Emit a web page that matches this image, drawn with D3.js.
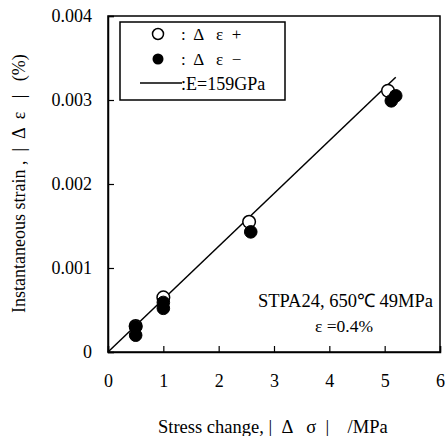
<!DOCTYPE html>
<html><head><meta charset="utf-8">
<script src="https://cdn.jsdelivr.net/npm/d3@7"></script>
<style>body{margin:0;background:#fff}svg text{font-family:"Liberation Serif","Times New Roman",serif;fill:#000;white-space:pre}</style>
</head><body><svg id="c" width="445" height="436"></svg>
<script>
const xTicks = [0,1,2,3,4,5,6];
const yTicks = [0,0.001,0.002,0.003,0.004];
const yTickLabels = ["0","0.001","0.002","0.003","0.004"];
const plusX = [0.5, 1.0, 2.55, 5.06];
const plusY = [0.00031, 0.00065, 0.00155, 0.00311];
const minusX = [0.5, 0.5, 1.0, 1.0, 2.58, 5.12, 5.2];
const minusY = [0.00030, 0.00020, 0.00059, 0.00052, 0.00143, 0.00299, 0.00305];
const lineX = [0, 5.2];
const E_GPa = 159;
const legendLabels = [":  Δ   ε  +", ":  Δ   ε  −", ":E=159GPa"];
const note1 = "STPA24, 650℃ 49MPa";
const note2 = "ε =0.4%";
const xTitle = "Stress change, |  Δ   σ  |    /MPa";
const yTitle = "Instantaneous strain ,  |  Δ  ε   |   (%)";

const svg = d3.select("#c");
const L=108, R=440, T=16, B=352;
const serif = '"Liberation Serif","Times New Roman",serif';
const x = d3.scaleLinear().domain([0,6]).range([L,R]);
const y = d3.scaleLinear().domain([0,0.004]).range([B,T]);

// frame
svg.append("rect").attr("x",L).attr("y",T).attr("width",R-L).attr("height",B-T)
  .attr("fill","none").attr("stroke","#000").attr("stroke-width",1.5);

// axes
const xa = svg.append("g").attr("transform",`translate(0,${B})`)
  .call(d3.axisBottom(x).tickValues(xTicks).tickSize(-6).tickPadding(22).tickFormat(d3.format("d")))
  .attr("font-family",serif);
xa.select(".domain").attr("stroke-width",1.5);
xa.selectAll("text").attr("font-size",18);
const ya = svg.append("g").attr("transform",`translate(${L},0)`)
  .call(d3.axisLeft(y).tickValues(yTicks).tickSize(-6).tickPadding(16).tickFormat((d,i)=>yTickLabels[i]))
  .attr("font-family",serif);
ya.select(".domain").attr("stroke-width",1.5);
ya.selectAll("text").attr("font-size",18);
svg.selectAll(".tick line").attr("stroke-width",1.2);

// fit line
const eps = s => s / (E_GPa*1000) * 100;
svg.append("path").datum(lineX).attr("fill","none").attr("stroke","#000").attr("stroke-width",1.5)
  .attr("d", d3.line().x(d=>x(d)).y(d=>y(eps(d))));

// points
svg.append("g").selectAll("circle").data(plusX).join("circle")
  .attr("cx",(d)=>x(d)).attr("cy",(d,i)=>y(plusY[i])).attr("r",6.3)
  .attr("fill","#fff").attr("stroke","#000").attr("stroke-width",1.5);
svg.append("g").selectAll("circle").data(minusX).join("circle")
  .attr("cx",(d)=>x(d)).attr("cy",(d,i)=>y(minusY[i])).attr("r",6.3)
  .attr("fill","#000").attr("stroke","#000").attr("stroke-width",1);

// legend
const lg = svg.append("g");
lg.append("rect").attr("x",120).attr("y",22).attr("width",165).attr("height",78)
  .attr("fill","#fff").attr("stroke","#000").attr("stroke-width",1.5);
lg.append("circle").attr("cx",158).attr("cy",34).attr("r",5.5).attr("fill","#fff").attr("stroke","#000").attr("stroke-width",1.5);
lg.append("circle").attr("cx",158).attr("cy",59).attr("r",5.5).attr("fill","#000");
lg.append("line").attr("x1",140).attr("x2",182).attr("y1",83).attr("y2",83).attr("stroke","#000").attr("stroke-width",1.3);
[40,65,90].forEach((yy,i)=>{
  lg.append("text").attr("x",181).attr("y",yy).attr("font-size",i<2?17:18).text(legendLabels[i]);
});

// notes
svg.append("text").attr("x",433).attr("y",307).attr("text-anchor","end").attr("font-size",18.5).text(note1);
svg.append("text").attr("x",373).attr("y",332).attr("text-anchor","end").attr("font-size",17.5).text(note2);

// titles
svg.append("text").attr("x",158).attr("y",433).attr("font-size",18.5).text(xTitle);
svg.append("text").attr("transform","translate(25,313) rotate(-90)").attr("font-size",18).text(yTitle);
</script></body></html>
